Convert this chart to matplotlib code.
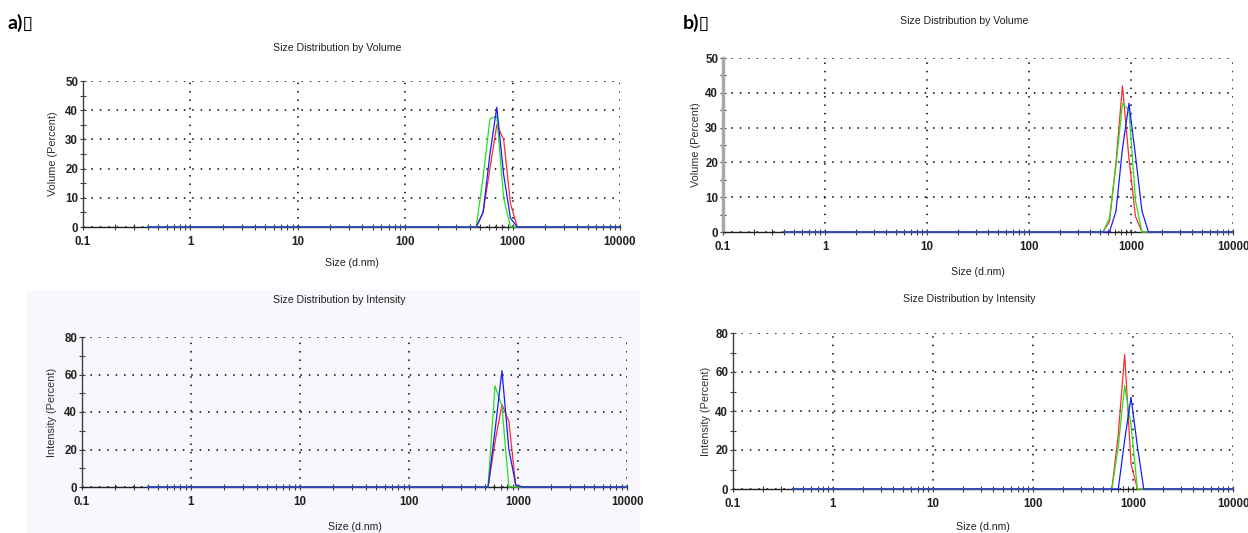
import numpy as np
import matplotlib
matplotlib.use("Agg")
import matplotlib.pyplot as plt
from matplotlib.ticker import LogLocator, NullFormatter, FixedLocator, FixedFormatter, MultipleLocator

plt.rcParams['font.family'] = ['Liberation Sans', 'DejaVu Sans']

#   DATA   #
# size bins (d.nm) where the curves leave the baseline, plus both ends of the measured range
size_lo, size_hi = 0.4, 10000
bins = [458.7, 531.2, 615.1, 712.4, 825.0, 955.4, 1106, 1281, 1484]

# a) volume (%) on the bins above
a_vol_red = [0, 5, 20, 35, 30, 8, 0, 0, 0]
a_vol_green = [0, 17, 37, 38, 10, 0, 0, 0, 0]
a_vol_blue = [0, 5, 25, 41, 18, 3, 0, 0, 0]
# a) intensity (%)
a_int_red = [0, 0, 24, 44, 35, 0, 0, 0, 0]
a_int_green = [0, 0, 54, 43, 0, 0, 0, 0, 0]
a_int_blue = [0, 0, 30, 62, 20, 1, 0, 0, 0]
# b) volume (%)
b_vol_red = [0, 0, 3, 20, 42, 21, 4.5, 0, 0]
b_vol_green = [0, 0, 4, 19, 37, 35, 9, 0, 0]
b_vol_blue = [0, 0, 0, 6, 24, 37, 22, 6, 0]
# b) intensity (%)
b_int_red = [0, 0, 0, 28, 69, 13, 0, 0, 0]
b_int_green = [0, 0, 0, 22, 53, 33, 0, 0, 0]
b_int_blue = [0, 0, 0, 0, 25, 47, 22, 0, 0]

x_ticks = [0.1, 1, 10, 100, 1000, 10000]
x_tick_labels = ['0.1', '1', '10', '100', '1000', '10000']

W, H = 1248, 533
fig = plt.figure(figsize=(W / 100, H / 100), dpi=100)


def fx(px):
    return px / W


def fy(py):
    return 1 - py / H


# faint background behind the lower-left panel
bg = fig.add_axes([fx(27), 0, fx(613), 1 - 290 / H], zorder=-10)
bg.set_facecolor('#f8f8fc')
bg.set_axis_off()
bg.patch.set_visible(True)
bg.axis('off')
bg.add_patch(plt.Rectangle((0, 0), 1, 1, transform=bg.transAxes, facecolor='#f8f8fc', edgecolor='none'))


def dls_panel(rect, red, green, blue, ymax, ystep, yminor, ylabel, title, title_xy, xlabel_xy, ylabel_xy,
              spine_color='#404040', spine_lw=1.0):
    left, top, right, bottom = rect
    ax = fig.add_axes([fx(left), fy(bottom), fx(right - left), (bottom - top) / H])
    ax.patch.set_alpha(0)
    xs = [size_lo] + bins + [size_hi]
    for vals, col in [(red, '#ff2a2a'), (green, '#22e022'), (blue, '#1a1aff')]:
        ax.plot(xs, [0] + vals + [0], color=col, lw=0.9, zorder=4, clip_on=False)
    ax.set_xscale('log')
    ax.set_xlim(0.1, 10000)
    ax.set_ylim(0, ymax)
    ax.xaxis.set_major_locator(FixedLocator(x_ticks))
    ax.xaxis.set_major_formatter(FixedFormatter(x_tick_labels))
    ax.xaxis.set_minor_locator(LogLocator(base=10, subs=np.arange(2, 10), numticks=20))
    ax.xaxis.set_minor_formatter(NullFormatter())
    ax.yaxis.set_major_locator(MultipleLocator(ystep))
    ax.yaxis.set_minor_locator(MultipleLocator(yminor))
    ax.tick_params(axis='both', which='major', direction='inout', length=5, width=0.8,
                   color='#404040', labelsize=8.3, labelcolor='#202020')
    ax.tick_params(axis='both', which='minor', direction='inout', length=4, width=0.8, color='#404040')
    ax.tick_params(axis='x', which='major', pad=4)
    ax.tick_params(axis='y', which='major', pad=1)
    for t in ax.get_yticklabels() + ax.get_xticklabels():
        t.set_fontweight('bold')
    ax.grid(True, which='major', color='black', linestyle=(0, (1, 4.5)), lw=1.1)
    ax.spines['top'].set_visible(False)
    ax.spines['right'].set_visible(False)
    ax.spines['left'].set_color(spine_color)
    ax.spines['left'].set_linewidth(spine_lw)
    ax.spines['bottom'].set_color('#202020')
    ax.spines['bottom'].set_linewidth(1.0)
    fig.text(fx(title_xy[0]), fy(title_xy[1]), title, ha='center', va='center', fontsize=7.6, color='#202020')
    fig.text(fx(xlabel_xy[0]), fy(xlabel_xy[1]), 'Size (d.nm)', ha='center', va='center', fontsize=7.6,
             color='#202020')
    fig.text(fx(ylabel_xy[0]), fy(ylabel_xy[1]), ylabel, ha='center', va='center', fontsize=7.8,
             rotation=90, color='#303030')
    return ax


dls_panel((83, 81, 620, 227), a_vol_red, a_vol_green, a_vol_blue, 50, 10, 5, 'Volume (Percent)',
          'Size Distribution by Volume', (337, 48), (352, 263), (53, 154))
dls_panel((82, 337, 627, 487), a_int_red, a_int_green, a_int_blue, 80, 20, 10, 'Intensity (Percent)',
          'Size Distribution by Intensity', (339, 300), (355, 527), (52, 412))
dls_panel((723, 58, 1233, 232), b_vol_red, b_vol_green, b_vol_blue, 50, 10, 5, 'Volume (Percent)',
          'Size Distribution by Volume', (964, 21), (978, 272), (696, 145),
          spine_color='#a8a8a8', spine_lw=2.5)
dls_panel((733, 333, 1233, 489), b_int_red, b_int_green, b_int_blue, 80, 20, 10, 'Intensity (Percent)',
          'Size Distribution by Intensity', (969, 299), (983, 527), (706, 411))

panel_font = ['Lato', 'DejaVu Sans']
fig.text(fx(8), fy(23), 'a)\u25af', fontsize=14, fontweight='bold', va='center', ha='left', family=panel_font)
fig.text(fx(683), fy(23), 'b)\u25af', fontsize=14, fontweight='bold', va='center', ha='left', family=panel_font)

fig.savefig('out.png', dpi=100)
